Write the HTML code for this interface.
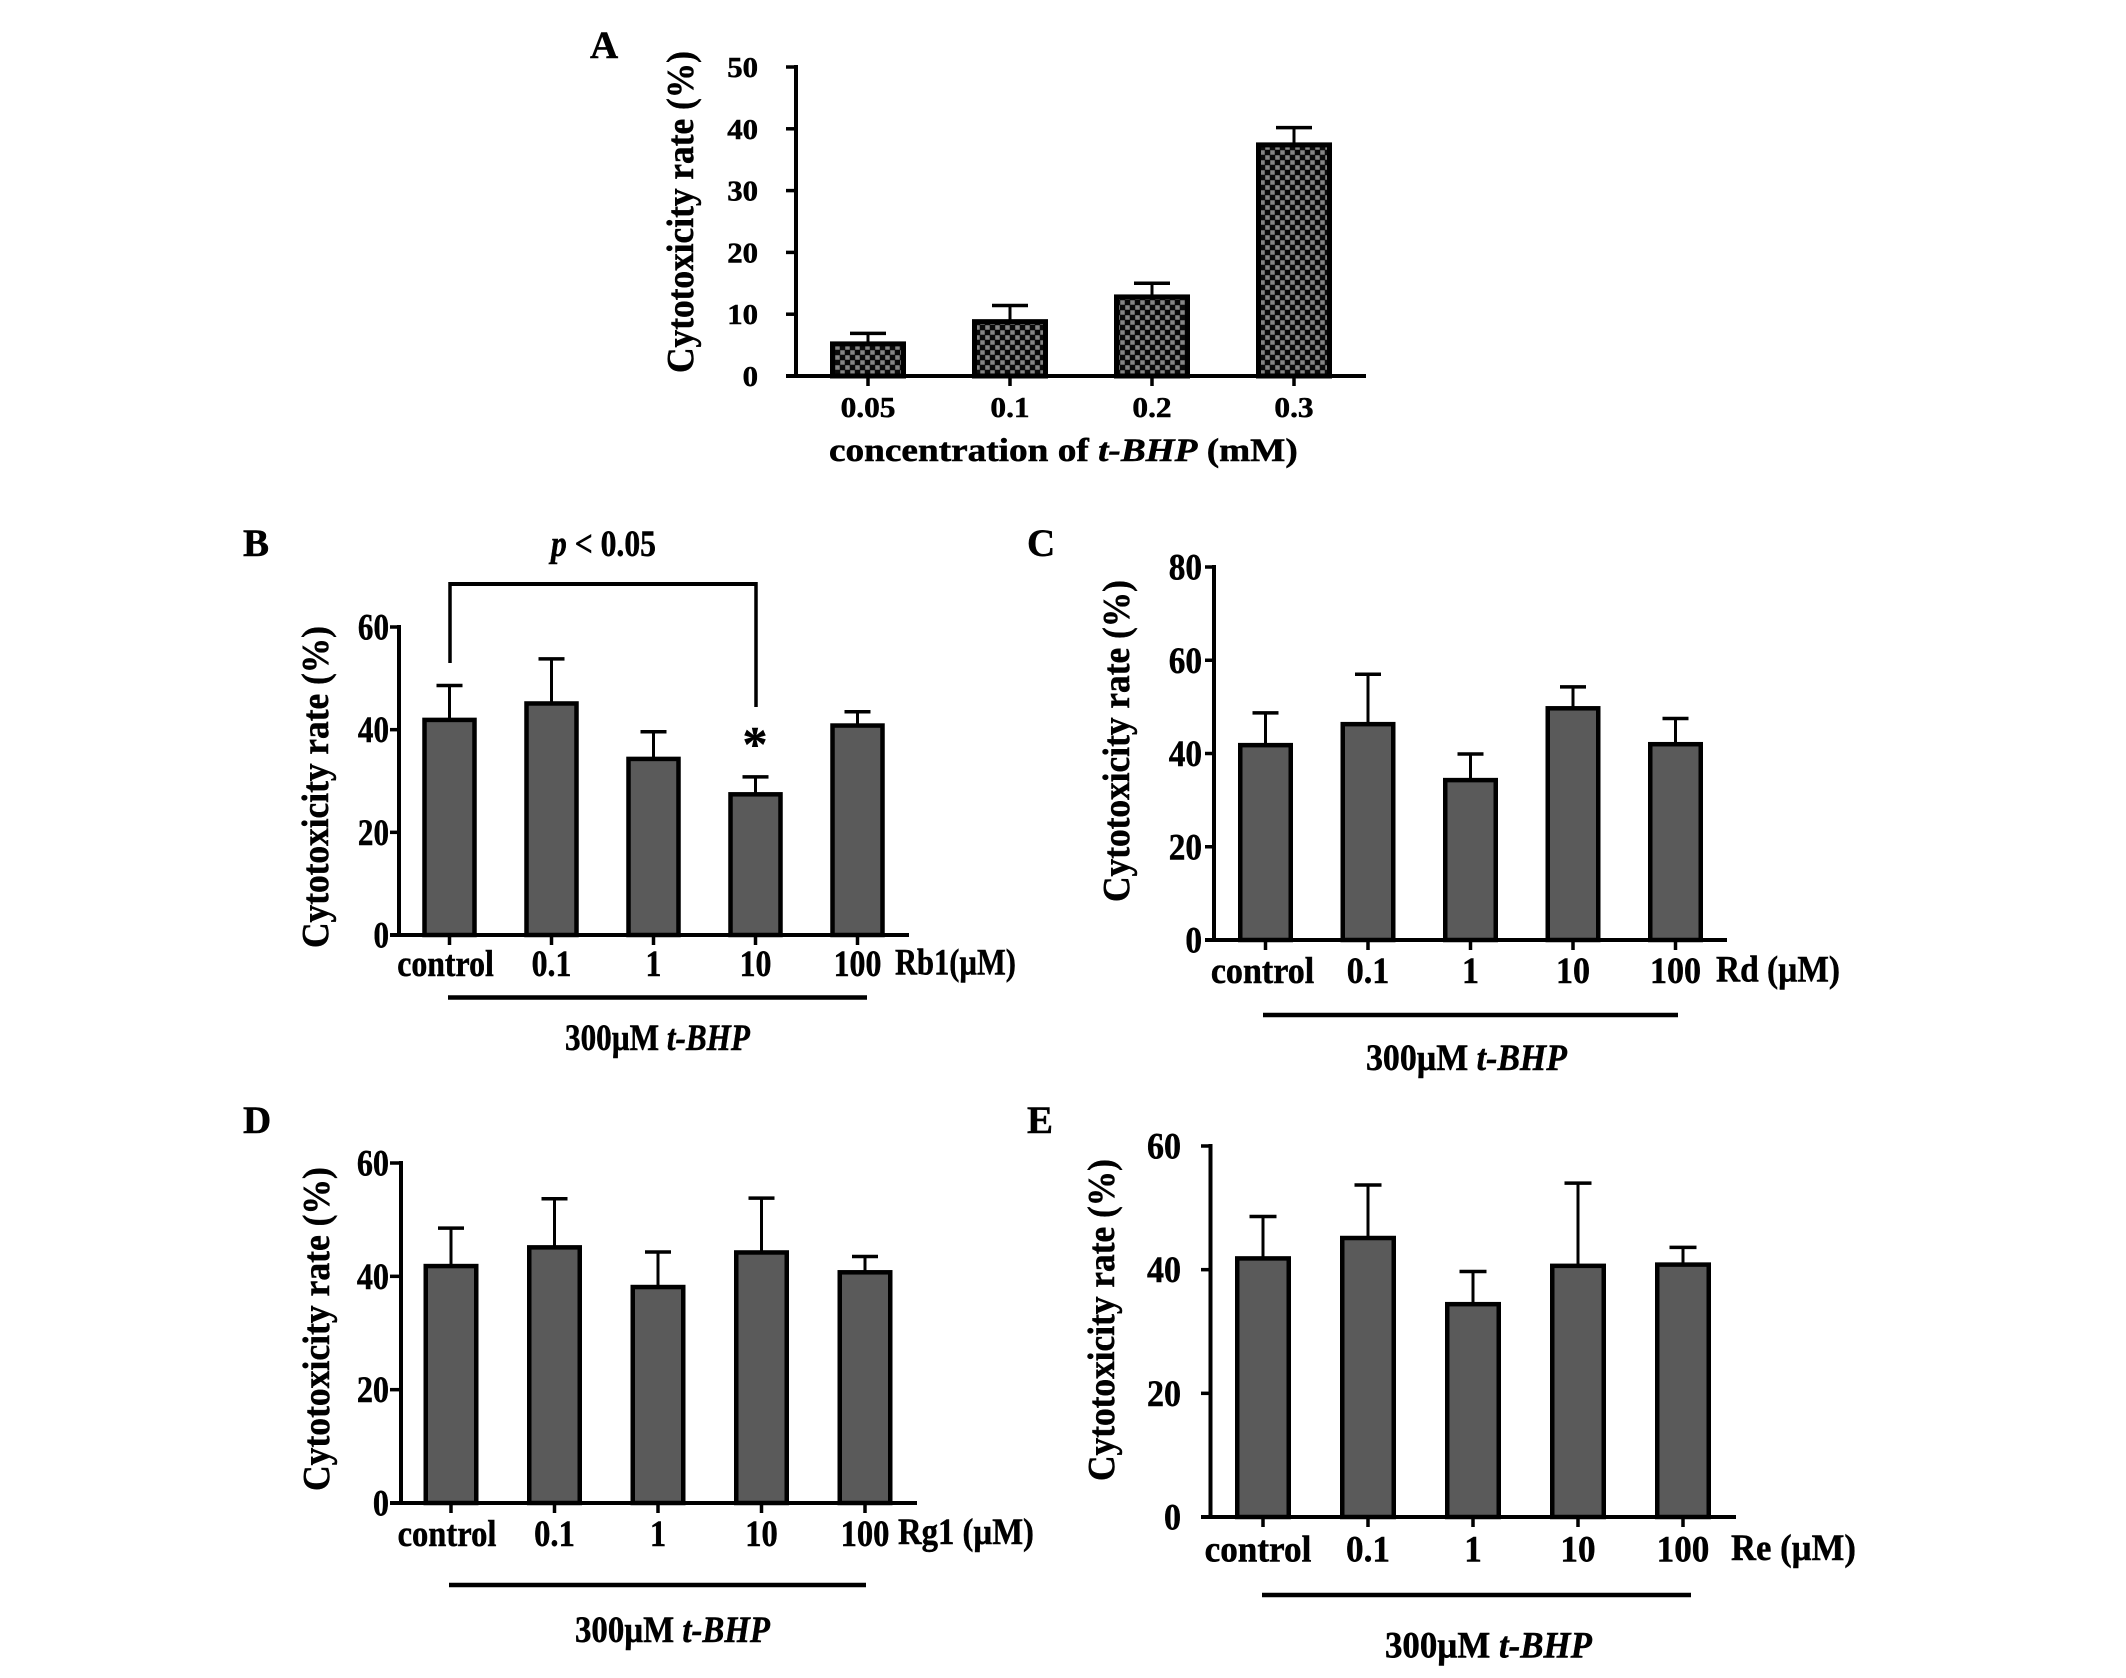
<!DOCTYPE html>
<html>
<head>
<meta charset="utf-8">
<title>Cytotoxicity rate panels</title>
<style>
html,body{margin:0;padding:0;background:#fff;}
svg{display:block;}
text{font-family:"Liberation Serif",serif;font-weight:bold;fill:#000;stroke:#000;stroke-width:0.5px;}
</style>
</head>
<body>
<svg id="figure" xmlns="http://www.w3.org/2000/svg" width="2126" height="1678" viewBox="0 0 2126 1678">
<defs>
<pattern id="checker" patternUnits="userSpaceOnUse" width="10" height="10">
<rect width="10" height="10" fill="#0a0a0a"/>
<rect x="0.25" y="0.25" width="4.5" height="4.5" fill="#868686"/>
<rect x="5.25" y="5.25" width="4.5" height="4.5" fill="#868686"/>
</pattern>
</defs>
</svg>
<script>
// ---- data ----
const concentrationCategories = ['0.05', '0.1', '0.2', '0.3'];
const doseCategories = ['control', '0.1', '1', '10', '100'];

const panelAValues = [5.6, 9.2, 13.2, 37.8];
const panelAErrorTops = [6.9, 11.4, 15.0, 40.2];
const panelATicks = [0, 10, 20, 30, 40, 50];

const panelBValues = [42.0, 45.2, 34.4, 27.5, 40.9];
const panelBErrorTops = [48.6, 53.8, 39.6, 30.8, 43.5];
const panelBTicks = [0, 20, 40, 60];

const panelCValues = [41.9, 46.4, 34.4, 49.8, 42.1];
const panelCErrorTops = [48.7, 57.0, 39.9, 54.3, 47.5];
const panelCTicks = [0, 20, 40, 60, 80];

const panelDValues = [41.9, 45.2, 38.2, 44.3, 40.8];
const panelDErrorTops = [48.5, 53.7, 44.3, 53.8, 43.5];
const panelDTicks = [0, 20, 40, 60];

const panelEValues = [41.9, 45.2, 34.5, 40.7, 40.9];
const panelEErrorTops = [48.6, 53.7, 39.7, 54.0, 43.6];
const panelETicks = [0, 20, 40, 60];

// ---- drawing helpers ----
const NS = 'http://www.w3.org/2000/svg';
const root = document.getElementById('figure');

function addLine(parent, name, x1, y1, x2, y2, w) {
  const el = document.createElementNS(NS, 'line');
  
  
  el.setAttribute('x1', x1);
  el.setAttribute('y1', y1);
  el.setAttribute('x2', x2);
  el.setAttribute('y2', y2);
  el.setAttribute('stroke', '#000');
  el.setAttribute('stroke-width', w);
  parent.appendChild(el);
  return el;
}

function addText(parent, name, str, x, y, size, sx, anchor) {
  const el = document.createElementNS(NS, 'text');
  
  
  el.setAttribute('font-size', size);
  el.setAttribute('text-anchor', anchor);
  el.setAttribute('transform', 'translate(' + x + ' ' + y + ') scale(' + sx + ' 1)');
  el.textContent = str;
  parent.appendChild(el);
  return el;
}

// Fitted label: optional italic run, stretched to a target pixel length.
function addFitted(parent, name, runs, x, y, size, length, rotate) {
  const el = document.createElementNS(NS, 'text');
  
  
  el.setAttribute('font-size', size);
  runs.forEach(function (run) {
    const t = document.createElementNS(NS, 'tspan');
    if (run[1]) t.setAttribute('font-style', 'italic');
    t.textContent = run[0];
    el.appendChild(t);
  });
  parent.appendChild(el);
  const natural = el.getComputedTextLength();
  const sx = length / natural;
  const rot = rotate ? ' rotate(-90)' : '';
  el.setAttribute('transform', 'translate(' + x + ' ' + y + ')' + rot + ' scale(' + sx + ' 1)');
  return el;
}

function drawPanel(p) {
  const g = document.createElementNS(NS, 'g');
  
  
  root.appendChild(g);

  const maxTick = p.ticks[p.ticks.length - 1];
  const yScale = function (v) { return p.y0 - (v / maxTick) * (p.y0 - p.yTop); };
  const xScale = function (i) { return p.x0 + i * p.step; };

  // error bars, then bars
  p.values.forEach(function (v, i) {
    const cx = xScale(i);
    const top = yScale(p.errors[i]);
    const barTop = yScale(v) + p.barInset;
    addLine(g, 'error-stem-' + p.categories[i], cx, barTop, cx, top, p.stem);
    addLine(g, 'error-cap-' + p.categories[i], cx - p.cap / 2, top, cx + p.cap / 2, top, p.stem + 0.5);
    const bar = document.createElementNS(NS, 'rect');
    
    
    bar.setAttribute('x', cx - (p.barW - p.barStroke) / 2);
    bar.setAttribute('y', barTop);
    bar.setAttribute('width', p.barW - p.barStroke);
    bar.setAttribute('height', Math.max(0, p.y0 - barTop));
    bar.setAttribute('fill', p.fill);
    bar.setAttribute('stroke', '#000');
    bar.setAttribute('stroke-width', p.barStroke);
    g.appendChild(bar);
  });

  // axes
  addLine(g, 'y-axis', p.axisX, yScale(maxTick) - 2, p.axisX, p.y0, p.axisW);
  addLine(g, 'x-axis', p.tickLeft, p.y0, p.xEnd, p.y0, p.axisW);

  // y ticks
  p.ticks.forEach(function (t) {
    const y = yScale(t);
    addLine(g, 'y-tick-' + t, p.tickLeft, y, p.axisX, y, p.axisW - 0.5);
    addText(g, 'y-tick-label-' + t, String(t), p.labelRight, y + p.yLabelDy, p.tickFont, p.tickSx, 'end');
  });

  // x ticks
  p.categories.forEach(function (c, i) {
    const x = xScale(i);
    addLine(g, 'x-tick-' + c, x, p.y0, x, p.y0 + p.tickDown, p.axisW - 0.5);
    addText(g, 'x-tick-label-' + c, c, x + (c === 'control' ? p.controlDx : 0), p.xLabelY, p.tickFont, p.xSx, 'middle');
  });
}

drawPanel({
  name: 'panel-a', categories: concentrationCategories, values: panelAValues, errors: panelAErrorTops, ticks: panelATicks,
  x0: 868, step: 142, y0: 376, yTop: 67, axisX: 796, tickLeft: 786, xEnd: 1366,
  barW: 76, cap: 36, stem: 3, barStroke: 5, barInset: 2.5, fill: 'url(#checker)', axisW: 4, tickDown: 10,
  labelRight: 758, yLabelDy: 10, tickFont: 28, tickSx: 1.1, xSx: 1.12, xLabelY: 417, controlDx: 0
});
drawPanel({
  name: 'panel-b', categories: doseCategories, values: panelBValues, errors: panelBErrorTops, ticks: panelBTicks,
  x0: 449.5, step: 102, y0: 935, yTop: 627, axisX: 399, tickLeft: 390, xEnd: 909,
  barW: 54.5, cap: 26, stem: 3, barStroke: 4.5, barInset: 0.5, fill: '#5a5a5a', axisW: 4, tickDown: 10,
  labelRight: 389, yLabelDy: 12.5, tickFont: 37, tickSx: 0.84, xSx: 0.86, xLabelY: 976, controlDx: -4
});
drawPanel({
  name: 'panel-c', categories: doseCategories, values: panelCValues, errors: panelCErrorTops, ticks: panelCTicks,
  x0: 1265.5, step: 102.5, y0: 940, yTop: 567, axisX: 1214, tickLeft: 1205, xEnd: 1727,
  barW: 55, cap: 26, stem: 3, barStroke: 4.5, barInset: 0.5, fill: '#5a5a5a', axisW: 4, tickDown: 10,
  labelRight: 1202, yLabelDy: 12.5, tickFont: 37, tickSx: 0.9, xSx: 0.92, xLabelY: 983, controlDx: -3
});
drawPanel({
  name: 'panel-d', categories: doseCategories, values: panelDValues, errors: panelDErrorTops, ticks: panelDTicks,
  x0: 451, step: 103.5, y0: 1503, yTop: 1163, axisX: 401, tickLeft: 390, xEnd: 917,
  barW: 55, cap: 26, stem: 3, barStroke: 4.5, barInset: 0.5, fill: '#5a5a5a', axisW: 4, tickDown: 10,
  labelRight: 389, yLabelDy: 12.5, tickFont: 37, tickSx: 0.87, xSx: 0.88, xLabelY: 1546, controlDx: -4
});
drawPanel({
  name: 'panel-e', categories: doseCategories, values: panelEValues, errors: panelEErrorTops, ticks: panelETicks,
  x0: 1263, step: 105, y0: 1517, yTop: 1146, axisX: 1210.5, tickLeft: 1201, xEnd: 1736,
  barW: 56, cap: 27, stem: 3, barStroke: 4.5, barInset: 0.5, fill: '#5a5a5a', axisW: 4, tickDown: 10,
  labelRight: 1181, yLabelDy: 12.5, tickFont: 37, tickSx: 0.92, xSx: 0.95, xLabelY: 1561.5, controlDx: -5
});

// panel letters
addText(root, 'panel-letter-a', 'A', 590, 58, 39, 1, 'start');
addText(root, 'panel-letter-b', 'B', 243, 556, 39, 1, 'start');
addText(root, 'panel-letter-c', 'C', 1027, 556, 39, 1, 'start');
addText(root, 'panel-letter-d', 'D', 243, 1133, 39, 1, 'start');
addText(root, 'panel-letter-e', 'E', 1027, 1133, 39, 1, 'start');

// y-axis titles
addFitted(root, 'y-axis-title-a', [['Cytotoxicity rate (%)', false]], 693, 373, 38, 322, true);
addFitted(root, 'y-axis-title-b', [['Cytotoxicity rate (%)', false]], 328, 948, 38, 322, true);
addFitted(root, 'y-axis-title-c', [['Cytotoxicity rate (%)', false]], 1129, 902, 38, 322, true);
addFitted(root, 'y-axis-title-d', [['Cytotoxicity rate (%)', false]], 329, 1491, 38, 324, true);
addFitted(root, 'y-axis-title-e', [['Cytotoxicity rate (%)', false]], 1114, 1481, 38, 322, true);

// x-axis title of panel A
addFitted(root, 'x-axis-title-a', [['concentration of ', false], ['t-BHP', true], [' (mM)', false]], 829, 461, 33, 469, false);

// unit labels
addFitted(root, 'unit-label-b', [['Rb1(\u00b5M)', false]], 895, 974.5, 37, 121, false);
addFitted(root, 'unit-label-c', [['Rd (\u00b5M)', false]], 1716, 981.5, 37, 124, false);
addFitted(root, 'unit-label-d', [['Rg1 (\u00b5M)', false]], 898, 1544, 37, 136, false);
addFitted(root, 'unit-label-e', [['Re (\u00b5M)', false]], 1731, 1560, 37, 125, false);

// treatment underlines
addLine(root, 'treatment-line-b', 448, 997.5, 867, 997.5, 4.5);
addLine(root, 'treatment-line-c', 1263, 1015, 1678, 1015, 4.5);
addLine(root, 'treatment-line-d', 449, 1585, 866, 1585, 4.5);
addLine(root, 'treatment-line-e', 1262, 1595, 1691, 1595, 4.5);

// treatment labels
addFitted(root, 'treatment-label-b', [['300\u00b5M ', false], ['t-BHP', true]], 565, 1050, 37, 185, false);
addFitted(root, 'treatment-label-c', [['300\u00b5M ', false], ['t-BHP', true]], 1366, 1070, 37, 201, false);
addFitted(root, 'treatment-label-d', [['300\u00b5M ', false], ['t-BHP', true]], 575, 1642, 37, 195, false);
addFitted(root, 'treatment-label-e', [['300\u00b5M ', false], ['t-BHP', true]], 1385, 1657.5, 37, 207, false);

// significance annotation on panel B
addLine(root, 'significance-bracket-top', 449, 584, 757, 584, 4);
addLine(root, 'significance-bracket-left', 450, 582, 450, 663, 3.5);
addLine(root, 'significance-bracket-right', 756, 582, 756, 707, 3.5);
addFitted(root, 'significance-label', [['p', true], [' < 0.05', false]], 551, 556, 37, 105, false);
addText(root, 'significance-star', '*', 755, 760.5, 50, 1, 'middle');
</script>
</body>
</html>
